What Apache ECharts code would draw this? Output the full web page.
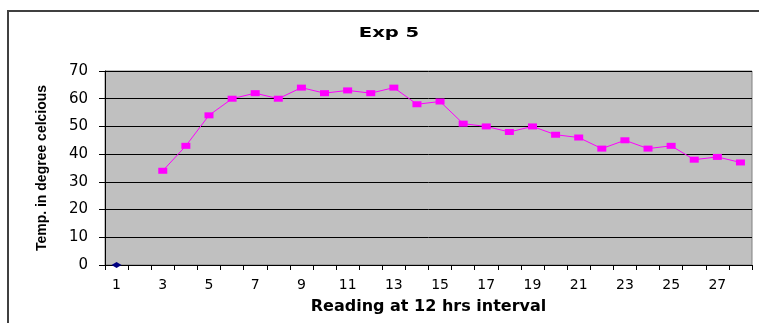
<!DOCTYPE html>
<html><head><meta charset="utf-8">
<script src="https://cdn.jsdelivr.net/npm/echarts@6/dist/echarts.min.js"></script>
<style>html,body{margin:0;padding:0;background:#fff}#c{width:759px;height:323px}</style>
</head><body><div id="c"></div>
<script>
const categories = ['1','2','3','4','5','6','7','8','9','10','11','12','13','14','15','16','17','18','19','20','21','22','23','24','25','26','27','28'];
const tempSeries = [null,null,34,43,54,60,62,60,64,62,63,62,64,58,59,51,50,48,50,47,46,42,45,42,43,38,39,37];
const startSeries = [0,null,null,null,null,null,null,null,null,null,null,null,null,null,null,null,null,null,null,null,null,null,null,null,null,null,null,null];
const yTicks = [0,10,20,30,40,50,60,70];
const chartTitle = 'Exp 5';

const chart = echarts.init(document.getElementById('c'));
chart.setOption({
  animation:false,
  backgroundColor:'#fff',
  graphic:[
    {type:'rect',shape:{x:8,y:11,width:760,height:330},style:{fill:'none',stroke:'#404040',lineWidth:2},silent:true},
    {type:'text',x:389,y:33,originX:0,scaleX:1.4,style:{text:chartTitle,font:'bold 14px "DejaVu Sans"',fill:'#000',textAlign:'center',textVerticalAlign:'middle'},silent:true}
  ],
  grid:{left:105,right:7,top:71,bottom:58,show:true,outerBoundsMode:'none',containLabel:false,backgroundColor:'#c0c0c0',borderColor:'#808080',borderWidth:1},
  xAxis:{type:'category',data:categories,boundaryGap:true,
    name:'Reading at 12 hrs interval',nameLocation:'middle',nameGap:34,
    nameTextStyle:{fontFamily:'DejaVu Sans',fontWeight:'bold',fontSize:16,color:'#000'},
    axisLine:{show:true,lineStyle:{color:'#000',width:1}},
    axisTick:{show:true,alignWithLabel:false,interval:0,length:5,lineStyle:{color:'#000'}},
    axisLabel:{interval:1,fontFamily:'DejaVu Sans',fontSize:14,color:'#000',margin:13},
    splitLine:{show:false}},
  yAxis:{type:'value',min:0,max:70,interval:10,
    name:'Temp. in degree celcious',nameLocation:'middle',nameGap:56,nameRotate:90,
    nameTextStyle:{fontFamily:'Liberation Sans Narrow, Liberation Sans',fontWeight:'bold',fontSize:14,color:'#000'},
    axisLine:{show:true,lineStyle:{color:'#000',width:1}},
    axisTick:{show:true,length:6,lineStyle:{color:'#000'}},
    axisLabel:{fontFamily:'DejaVu Sans',fontSize:15,color:'#000',margin:17,
      formatter:v=>yTicks.includes(v)?String(v):''},
    splitLine:{show:true,lineStyle:{color:'#000',width:1}}},
  series:[
    {type:'line',data:startSeries,symbol:'diamond',symbolSize:[10,6],itemStyle:{color:'#000080'},lineStyle:{color:'#000080',width:1},connectNulls:false},
    {type:'line',data:tempSeries,symbol:'rect',symbolSize:[9,6],itemStyle:{color:'#ff00ff'},lineStyle:{color:'#ff00ff',width:1},connectNulls:false}
  ]
});
</script></body></html>
